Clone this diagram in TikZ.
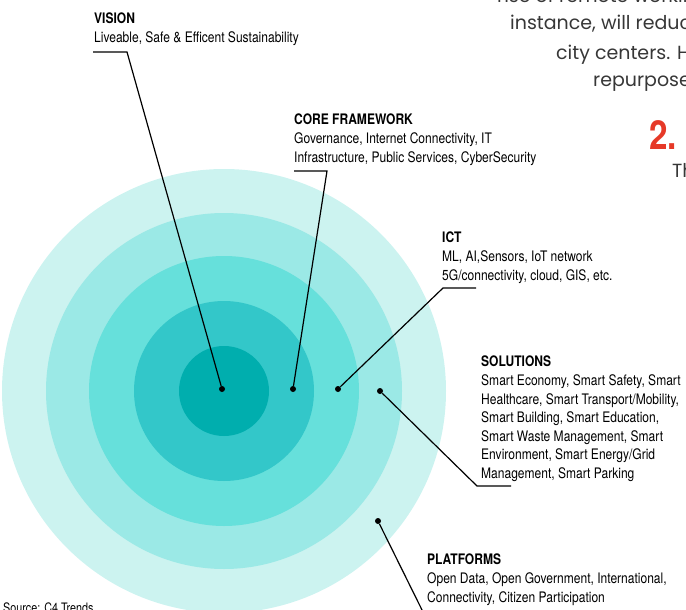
\documentclass[tikz,border=0pt]{standalone}
\usepackage{fontspec}
\newfontfamily\labelfont[FakeStretch=0.83]{TeX Gyre Heros}
\newfontfamily\bodyfont{Poppins}
\definecolor{ringone}{RGB}{0,174,174}
\definecolor{ringtwo}{RGB}{51,199,201}
\definecolor{ringthree}{RGB}{102,224,219}
\definecolor{ringfour}{RGB}{155,233,230}
\definecolor{ringfive}{RGB}{204,243,240}
\definecolor{bodygray}{RGB}{55,55,55}
\definecolor{headred}{RGB}{230,57,40}

\begin{document}
\begin{tikzpicture}[x=1pt,y=-1pt,
  tag/.style={anchor=north west,inner sep=0pt,align=left,font=\labelfont\fontsize{14.5}{18.6}\selectfont},
  body/.style={anchor=base west,inner sep=0pt,text=bodygray,font=\bodyfont\fontsize{19}{28}\selectfont},
  leader/.style={line width=1.2pt,black},
  dot/.style={circle,fill=black,inner sep=0pt,minimum size=6pt}]

  \useasboundingbox (0,0) rectangle (686,610);
  \clip (0,0) rectangle (686,610);

  % Ring centre.
  \def\cx{224}      %x of centre
  \def\cy{391}      %y of centre (y runs downwards)

  % Rings, outermost first.
  \foreach \r/\col in {222/ringfive,178/ringfour,135/ringthree,90/ringtwo,45/ringone}
    \fill[\col] (\cx,\cy) circle[radius=\r];

  % Dots on the rings.
  \node[dot] (visiondot) at (222,389) {};
  \node[dot] (coredot)   at (293,389) {};
  \node[dot] (ictdot)    at (338,389) {};
  \node[dot] (soldot)    at (380,391) {};
  \node[dot] (platdot)   at (378,521) {};

  % Elbows and ends of the leader lines.
  \coordinate (visionbend) at (127,52);
  \coordinate (visionend)  at (93,52);
  \coordinate (corebend)   at (327,171);
  \coordinate (coreend)    at (294,171);
  \coordinate (ictbend)    at (443,288);
  \coordinate (ictend)     at (476,288);
  \coordinate (solbend)    at (477,486);
  \coordinate (solend)     at (511,486);
  \coordinate (platend)    at (425,616);

  % Leader lines.
  \draw[leader] (visiondot) -- (visionbend) -- (visionend);
  \draw[leader] (coredot) -- (corebend) -- (coreend);
  \draw[leader] (ictdot) -- (ictbend) -- (ictend);
  \draw[leader] (soldot) -- (solbend) -- (solend);
  \draw[leader] (platdot) -- (platend);

  % Labels.
  \node[tag] (vision) at (94,12.5) {\textbf{VISION}\\Liveable, Safe \& Efficent Sustainability};
  \node[tag] (core) at (294,114) {\textbf{CORE FRAMEWORK}\\Governance, Internet Connectivity, IT\\Infrastructure, Public Services, CyberSecurity};
  \node[tag] (ict) at (442,232) {\textbf{ICT}\\ML, AI,Sensors, IoT network\\5G/connectivity, cloud, GIS, etc.};
  \node[tag] (solutions) at (481,356) {\textbf{SOLUTIONS}\\Smart Economy, Smart Safety, Smart\\Healthcare, Smart Transport/Mobility,\\Smart Building, Smart Education,\\Smart Waste Management, Smart\\Environment, Smart Energy/Grid\\Management, Smart Parking};
  \node[tag] (platforms) at (427,554) {\textbf{PLATFORMS}\\Open Data, Open Government, International,\\Connectivity, Citizen Participation};
  \node[anchor=base west,inner sep=0pt,font=\labelfont\fontsize{13}{13}\selectfont] (source) at (3,612) {Source: C4 Trends};

  % Running text beside the figure.
  \node[body] (lineone)   at (497,3)   {rise of remote workin};
  \node[body] (linetwo)   at (510,30)  {instance, will reduc};
  \node[body] (linethree) at (556,60)  {city centers. H};
  \node[body] (linefour)  at (593,87)  {repurpose};
  \node[anchor=base west,inner sep=0pt,text=headred,font=\labelfont\bfseries\fontsize{40}{40}\selectfont] (stepno) at (649,149) {2.};
  \node[body] (linefive)  at (672,177) {Th};

\end{tikzpicture}
\end{document}
